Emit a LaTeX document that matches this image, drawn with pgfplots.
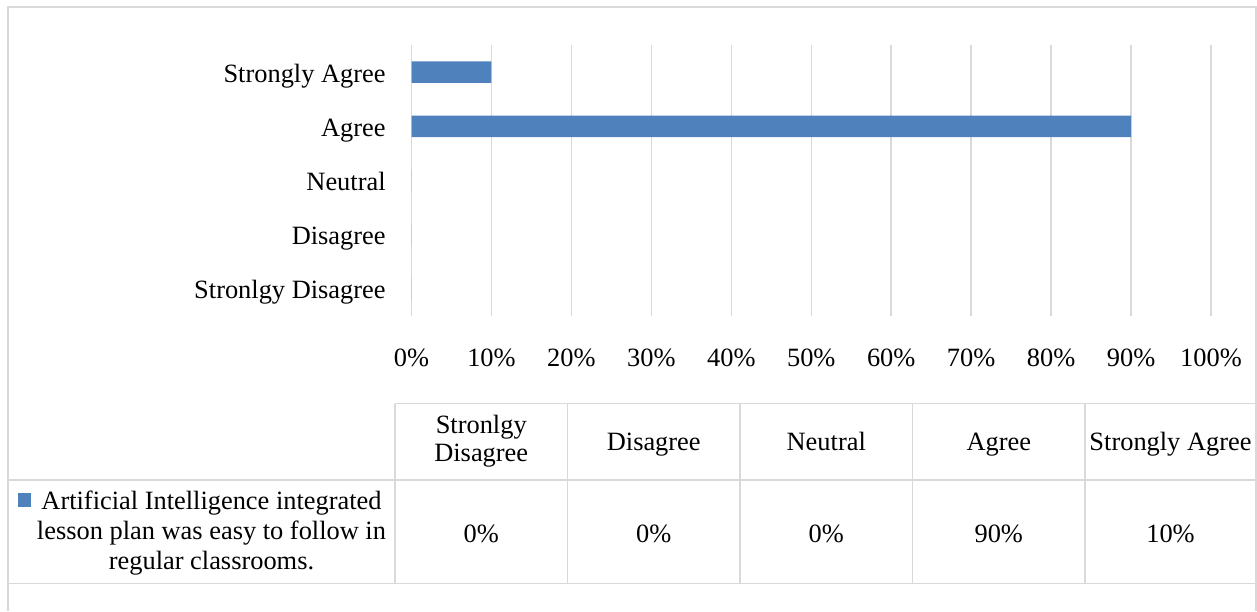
\documentclass[border=0pt]{standalone}
\usepackage{pgfplots}
\pgfplotsset{compat=1.18}
\usepackage{fontspec}
\setmainfont{Liberation Serif}
\definecolor{barblue}{RGB}{79,129,189}
\definecolor{gridgray}{RGB}{217,217,217}
\begin{document}
\begin{tikzpicture}
\path[use as bounding box] (0pt,0pt) rectangle (628.5pt,-305.5pt);
\begin{axis}[
  at={(205.75pt,-158pt)}, anchor=south west,
  scale only axis, width=399.75pt, height=135.5pt,
  xmin=0, xmax=100, ymin=-0.5, ymax=4.5,
  xtick={0,10,...,100},
  xticklabels={0\%,10\%,20\%,30\%,40\%,50\%,60\%,70\%,80\%,90\%,100\%},
  ytick={0,1,2,3,4},
  yticklabels={Stronlgy Disagree,Disagree,Neutral,Agree,Strongly Agree},
  axis line style={draw=none},
  major tick style={draw=none},
  xmajorgrids,
  grid style={draw=gridgray, line width=0.75pt},
  tick label style={font=\fontsize{13.2}{15}\selectfont},
  xticklabel style={anchor=base, inner sep=0pt, yshift=-25pt},
  yticklabel style={anchor=base east, inner sep=0pt, xshift=-12.75pt, yshift=-5pt},
  clip=false,
]
\addplot[xbar, fill=barblue, draw=none, bar width=10.8pt]
  coordinates {(0,0) (0,1) (0,2) (90,3) (10,4)};
\end{axis}
\begin{scope}[x=0.5pt,y=-0.5pt]
  \draw[gridgray, line width=0.75pt] (8,611) -- (8,7) -- (1256,7) -- (1256,611);
  \draw[gridgray, line width=0.75pt] (395,403.5) -- (1256,403.5);
  \draw[gridgray, line width=0.75pt] (8,480) -- (1256,480);
  \draw[gridgray, line width=0.75pt] (8,583.5) -- (1256,583.5);
  \foreach \xx in {395,567.5,740,912.5,1085}
    \draw[gridgray, line width=0.75pt] (\xx,403.5) -- (\xx,583.5);
  \tikzset{cell/.style={font=\fontsize{13.2}{15}\selectfont, align=center, inner sep=0pt, anchor=base}}
  \node[cell, font=\fontsize{13.2}{14.2}\selectfont] at (481.25,461.7) {Stronlgy\\Disagree};
  \node[cell] at (653.75,450) {Disagree};
  \node[cell] at (826.25,450) {Neutral};
  \node[cell] at (998.75,450) {Agree};
  \node[cell] at (1170.5,450) {Strongly Agree};
  \node[cell] at (481.25,542) {0\%};
  \node[cell] at (653.75,542) {0\%};
  \node[cell] at (826.25,542) {0\%};
  \node[cell] at (998.75,542) {90\%};
  \node[cell] at (1170.5,542) {10\%};
  \fill[barblue] (17.5,493) rectangle (31,506.5);
  \node[cell] at (211.5,569.3) {Artificial Intelligence integrated\\lesson plan was easy to follow in\\regular classrooms.};
\end{scope}
\end{tikzpicture}
\end{document}
